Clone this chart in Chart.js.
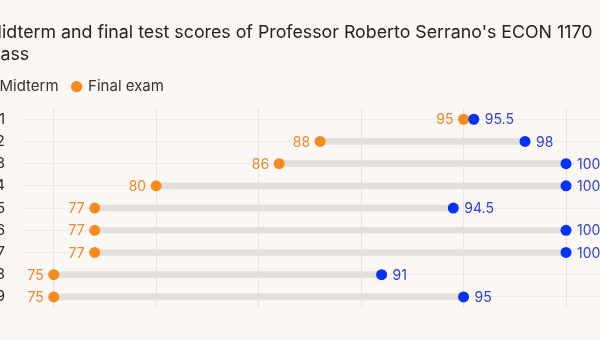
<!DOCTYPE html>
<html>
<head>
<meta charset="utf-8">
<script src="https://cdn.jsdelivr.net/npm/chart.js@4.4.0/dist/chart.umd.min.js"></script>
<style>
  html, body { margin: 0; padding: 0; background: #faf7f4; overflow: hidden; }
  body { width: 600px; height: 340px; position: relative; }
  #wrap { position: absolute; left: -20px; top: 0; width: 640px; height: 340px; }
</style>
</head>
<body>
<div id="wrap"><canvas id="scoreChart" width="640" height="340"></canvas></div>
<script>
const students = ['1', '2', '3', '4', '5', '6', '7', '8', '9'];
const midtermScores = [95.5, 98, 100, 100, 94.5, 100, 100, 91, 95];
const finalScores = [95, 88, 86, 80, 77, 77, 77, 75, 75];
const gridTicks = [75, 80, 85, 90, 95, 100];
const titleLines = ["Midterm and final test scores of Professor Roberto Serrano's ECON 1170", "class"];

const BLUE = '#0433f5';
const ORANGE = '#f88b1e';

Chart.defaults.font.family = 'Inter';

// score next to each dot: midterm to the right, final to the left
const valueLabels = {
    id: 'valueLabels',
    afterDatasetsDraw(chart) {
        const c = chart.ctx;
        c.save();
        c.font = '14px Inter';
        c.textBaseline = 'middle';
        chart.data.datasets.forEach((ds, i) => {
            if (!ds.labelSide) return;
            const meta = chart.getDatasetMeta(i);
            meta.data.forEach((pt, j) => {
                c.fillStyle = ds.labelColor;
                if (ds.labelSide === 'right') {
                    c.textAlign = 'left';
                    c.fillText(String(ds.data[j]), pt.x + 11, pt.y + 1);
                } else {
                    c.textAlign = 'right';
                    c.fillText(String(ds.data[j]), pt.x - 10, pt.y + 1);
                }
            });
        });
        c.restore();
    }
};

// legend lines up with the title's left edge, and a bit more room under it
const legendNudge = {
    id: 'legendNudge',
    afterInit(chart) {
        const legend = chart.legend;
        const fit = legend.fit;
        legend.fit = function () {
            fit.call(this);
            this.height += 4;
        };
    },
    afterLayout(chart) {
        chart.legend.left -= 16;
        chart.legend.right -= 16;
    }
};

const ctx = document.getElementById('scoreChart').getContext('2d');
new Chart(ctx, {
    type: 'bar',
    data: {
        labels: students,
        datasets: [{
            type: 'bar',
            label: 'range',
            data: students.map((s, i) => [finalScores[i], midtermScores[i]]),
            backgroundColor: '#e3e0dc',
            barThickness: 6,
            borderSkipped: false,
            indexAxis: 'y',
            order: 2
        }, {
            type: 'line',
            label: 'Midterm',
            data: midtermScores,
            indexAxis: 'y',
            showLine: false,
            backgroundColor: BLUE,
            borderColor: BLUE,
            borderWidth: 0,
            pointRadius: 5.5,
            pointBorderWidth: 0,
            pointBackgroundColor: BLUE,
            labelSide: 'right',
            labelColor: '#2b3fcf',
            order: 0
        }, {
            type: 'line',
            label: 'Final exam',
            data: finalScores,
            indexAxis: 'y',
            showLine: false,
            backgroundColor: ORANGE,
            borderColor: ORANGE,
            borderWidth: 0,
            pointRadius: 5.5,
            pointBorderWidth: 0,
            pointBackgroundColor: ORANGE,
            labelSide: 'left',
            labelColor: '#e88a2c',
            order: 1
        }]
    },
    options: {
        indexAxis: 'y',
        responsive: false,
        animation: false,
        layout: { padding: { left: 6, right: 13, top: 0, bottom: 32 } },
        plugins: {
            title: {
                display: true,
                align: 'start',
                text: titleLines,
                color: '#222222',
                font: { size: 17.8, weight: 'normal', lineHeight: 1.24 },
                padding: { top: 22, bottom: -1 }
            },
            legend: {
                display: true,
                align: 'start',
                labels: {
                    usePointStyle: true,
                    pointStyle: 'circle',
                    boxWidth: 8,
                    boxHeight: 8,
                    padding: 14,
                    color: '#333333',
                    font: { size: 15 },
                    filter: item => item.text !== 'range'
                }
            },
            tooltip: { enabled: false }
        },
        scales: {
            x: {
                type: 'linear',
                min: 73.5,
                max: 102,
                afterBuildTicks: axis => { axis.ticks = gridTicks.map(v => ({ value: v })); },
                ticks: { display: false },
                grid: { color: '#e7e4e0', drawTicks: false },
                border: { display: false }
            },
            y: {
                type: 'category',
                labels: students,
                offset: true,
                afterFit: axis => { axis.width = 37; },
                ticks: { color: '#2b2b2b', font: { size: 15 }, padding: 18 },
                grid: { offset: false, color: '#eeeae6', drawTicks: false },
                border: { display: false }
            }
        }
    },
    plugins: [valueLabels, legendNudge]
});
</script>
</body>
</html>
